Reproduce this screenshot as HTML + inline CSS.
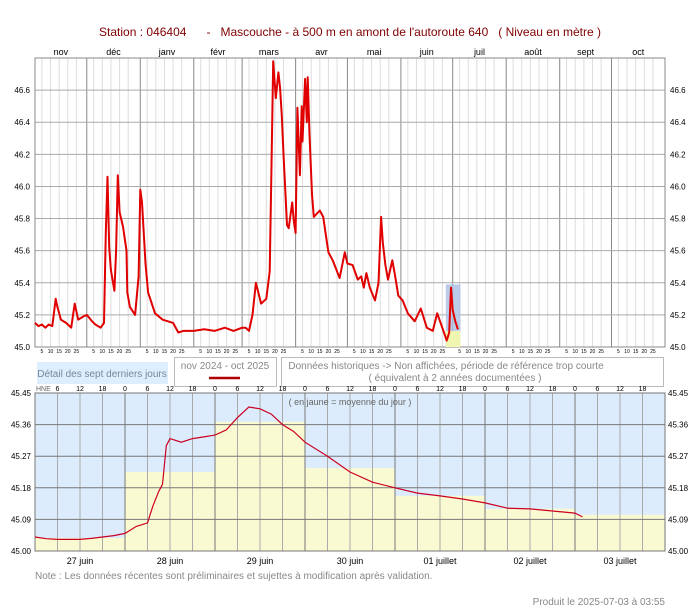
<!DOCTYPE html>
<html><head><meta charset="utf-8"><style>
body{margin:0;background:#fff;width:700px;height:610px;overflow:hidden;font-family:"Liberation Sans",sans-serif}
svg text{font-family:"Liberation Sans",sans-serif}
</style></head><body>
<svg id="c" width="700" height="610" viewBox="0 0 700 610">
<text x="350" y="36" text-anchor="middle" font-size="12" fill="#800000">Station : 046404&#160;&#160;&#160;&#160;&#160;&#160;-&#160;&#160;&#160;Mascouche - à 500 m en amont de l'autoroute 640&#160;&#160;&#160;( Niveau en mètre )</text>
<g id="topplot"></g>
<rect x="37" y="362" width="131" height="22" fill="#ddeeff"/>
<text x="102" y="377" text-anchor="middle" font-size="10" fill="#778899">Détail des sept derniers jours</text>
<rect x="174.5" y="357.5" width="102" height="29" fill="#fff" stroke="#bbb"/>
<text x="225" y="369" text-anchor="middle" font-size="10" fill="#888">nov 2024 - oct 2025</text>
<line x1="209" y1="378" x2="240" y2="378" stroke="#b00000" stroke-width="2.5"/>
<rect x="281.5" y="357.5" width="382" height="29" fill="#fff" stroke="#bbb"/>
<text x="446" y="369" text-anchor="middle" font-size="10" fill="#888">Données historiques -&gt; Non affichées, période de référence trop courte</text>
<text x="455" y="381" text-anchor="middle" font-size="10" fill="#888">( équivalent à 2 années documentées )</text>
<g id="botplot"></g>
<text x="35" y="579" font-size="10" fill="#888">Note : Les données récentes sont préliminaires et sujettes à modification après validation.</text>
<text x="665" y="605" text-anchor="end" font-size="10" fill="#888">Produit le 2025-07-03 à 03:55</text>
</svg>
<script>
const monthNames=["nov","déc","janv","févr","mars","avr","mai","juin","juil","août","sept","oct"];
const monthDays=[30,31,31,28,31,30,31,30,31,31,30,31];
const yTicks=[45.0,45.2,45.4,45.6,45.8,46.0,46.2,46.4,46.6];
const days=[0,2,4,6,8,10,12,13,15,18,21,23,25,28,30,33,35,38,40,41,42,43,44,46,47,48,49,51,53,53.5,55,58,60,61,62,64,65.5,69.5,74,80,83,86,92,98,104,110,115,120,122,124,126,128,131,134,136,137,138,139.5,141,142,143,144,146,147,149,150,151,152,153.5,154.5,155,156.5,157.5,158,159,160.5,161.5,165,167,170,172.5,176.5,179.5,181,184,187,189,190.5,192,194,197,199,200.5,201.5,203,204.5,207,208.5,210.5,213,216,220,223.5,227,230.5,233,236,238.5,240,241,242,243.5,245];
const levels=[45.15,45.13,45.14,45.12,45.14,45.13,45.3,45.25,45.17,45.15,45.12,45.27,45.17,45.19,45.2,45.16,45.14,45.12,45.15,45.71,46.06,45.62,45.48,45.35,45.6,46.07,45.84,45.75,45.6,45.34,45.25,45.2,45.44,45.98,45.9,45.52,45.34,45.21,45.17,45.15,45.09,45.1,45.1,45.11,45.1,45.12,45.1,45.12,45.12,45.1,45.2,45.4,45.27,45.3,45.47,46.13,46.78,46.55,46.71,46.61,46.44,46.2,45.76,45.74,45.9,45.78,45.71,46.49,46.07,46.5,46.28,46.67,46.4,46.68,46.34,45.95,45.81,45.85,45.81,45.59,45.54,45.43,45.59,45.52,45.51,45.42,45.44,45.37,45.46,45.37,45.29,45.4,45.81,45.65,45.51,45.42,45.54,45.45,45.32,45.29,45.21,45.16,45.24,45.12,45.1,45.21,45.12,45.04,45.09,45.37,45.23,45.16,45.11];
const dayLabels=["27 juin","28 juin","29 juin","30 juin","01 juillet","02 juillet","03 juillet"];
const dailyMeans=[45.037,45.225,45.368,45.236,45.157,45.12,45.103];
const bTicks=[45.00,45.09,45.18,45.27,45.36,45.45];
const hours=[0,3,6,9,12,15,18,21,24,27,30,31.5,33,34,35,36,39,42,45,48,51,54,57,60,63,66,69,72,78,84,90,96,102,108,114,120,126,132,138,144,146];
const hourly=[45.04,45.035,45.033,45.033,45.033,45.036,45.04,45.044,45.05,45.07,45.08,45.13,45.17,45.19,45.3,45.32,45.31,45.32,45.325,45.33,45.345,45.38,45.41,45.405,45.39,45.36,45.34,45.31,45.27,45.225,45.196,45.18,45.165,45.157,45.148,45.137,45.122,45.12,45.114,45.108,45.097];

const NS="http://www.w3.org/2000/svg";
function mk(parent,tag,attrs){const e=document.createElementNS(NS,tag);for(const k in attrs)e.setAttribute(k,attrs[k]);parent.appendChild(e);return e;}
const topG=document.getElementById('topplot'),botG=document.getElementById('botplot');
const L=35,R=665,T=58,B=347,totalDays=365;
const xs=d=>L+d*(R-L)/totalDays;
const ys=v=>B-(v-45.0)/(46.8-45.0)*(B-T);
let cum=0;
monthNames.forEach((m,i)=>{
  [5,10,15,20,25].forEach(dd=>{
    const x=xs(cum+dd-1);
    const g=mk(topG,'line',{x1:x,x2:x,y1:T,y2:B,stroke:'#ddd','stroke-width':1});
    
    
    const t=mk(topG,'text',{x:x,y:353,'font-size':5,'text-anchor':'middle',fill:'#000'});t.textContent=dd;
    
    
  });
  const x0=xs(cum);
  const ml=mk(topG,'line',{x1:x0,x2:x0,y1:T,y2:B,stroke:'#888','stroke-width':1});
  
  
  const lt=mk(topG,'text',{x:xs(cum+monthDays[i]/2),y:55,'font-size':9,'text-anchor':'middle',fill:'#000'});lt.textContent=m;
  
  
  cum+=monthDays[i];
});
yTicks.forEach(v=>{
  const y=ys(v);
  const gl=mk(topG,'line',{x1:L,x2:R,y1:y,y2:y,stroke:'#aaa','stroke-width':1});
  
  
  const a=mk(topG,'text',{x:30,y:y+3,'font-size':8,'text-anchor':'end'});a.textContent=v.toFixed(1);
  
  
  const b=mk(topG,'text',{x:670,y:y+3,'font-size':8});b.textContent=v.toFixed(1);
  
  
});
const fr=mk(topG,'rect',{x:L,y:T,width:R-L,height:B-T,fill:'none',stroke:'#888'});


const hStart=238,hEnd=246.5;
const hb=mk(topG,'rect',{x:xs(hStart),y:ys(45.39),width:xs(hEnd)-xs(hStart),height:ys(45.0)-ys(45.39),fill:'#aabfe6',opacity:0.8});


const hy=mk(topG,'rect',{x:xs(hStart),y:ys(45.1),width:xs(hEnd)-xs(hStart),height:ys(45.0)-ys(45.1),fill:'#f0f5b0'});


const pts=days.map((d,i)=>xs(d).toFixed(1)+','+ys(levels[i]).toFixed(1)).join(' ');
const pl=mk(topG,'polyline',{points:pts,fill:'none',stroke:'#e00000','stroke-width':2,'stroke-linejoin':'round'});



const bL=35,bR=665,bT=393,bB=551;
const bx=h=>bL+h*(bR-bL)/168;
const by=v=>bB-(v-45.0)/0.45*(bB-bT);
const bg=mk(botG,'rect',{x:bL,y:bT,width:bR-bL,height:bB-bT,fill:'#dcecfc'});


dailyMeans.forEach((v,i)=>{
  const r=mk(botG,'rect',{x:bx(i*24),y:by(v),width:bx(24)-bx(0),height:bB-by(v),fill:'#fafad2'});
  
  
});
for(let h=0;h<168;h+=6){
  const x=bx(h);
  const isDay=h%24===0;
  const l=mk(botG,'line',{x1:x,x2:x,y1:bT,y2:bB,stroke:isDay?'#777':'#aaa','stroke-width':1});
  
  
  if(h>0){const t=mk(botG,'text',{x:x,y:391,'font-size':7,'text-anchor':'middle'});t.textContent=h%24;
  
  }
}
const hne=mk(botG,'text',{x:36,y:391,'font-size':7,fill:'#666'});hne.textContent='HNE';


bTicks.forEach(v=>{
  const y=by(v);
  const l=mk(botG,'line',{x1:bL,x2:bR,y1:y,y2:y,stroke:'#777','stroke-width':1});
  
  
  const a=mk(botG,'text',{x:31,y:y+3,'font-size':8,'text-anchor':'end'});a.textContent=v.toFixed(2);
  
  
  const b=mk(botG,'text',{x:668,y:y+3,'font-size':8});b.textContent=v.toFixed(2);
  
  
});
dayLabels.forEach((d,i)=>{
  const t=mk(botG,'text',{x:bx(i*24+12),y:564,'font-size':9,'text-anchor':'middle'});t.textContent=d;
  
  
});
const bf=mk(botG,'rect',{x:bL,y:bT,width:bR-bL,height:bB-bT,fill:'none',stroke:'#777'});


const note=mk(botG,'text',{x:350,y:405,'font-size':9,'text-anchor':'middle',fill:'#666'});note.textContent='( en jaune = moyenne du jour )';


const bpts=hours.map((h,i)=>bx(h).toFixed(1)+','+by(hourly[i]).toFixed(1)).join(' ');
const bl=mk(botG,'polyline',{points:bpts,fill:'none',stroke:'#cc0022','stroke-width':1.2});


</script>
</body></html>
